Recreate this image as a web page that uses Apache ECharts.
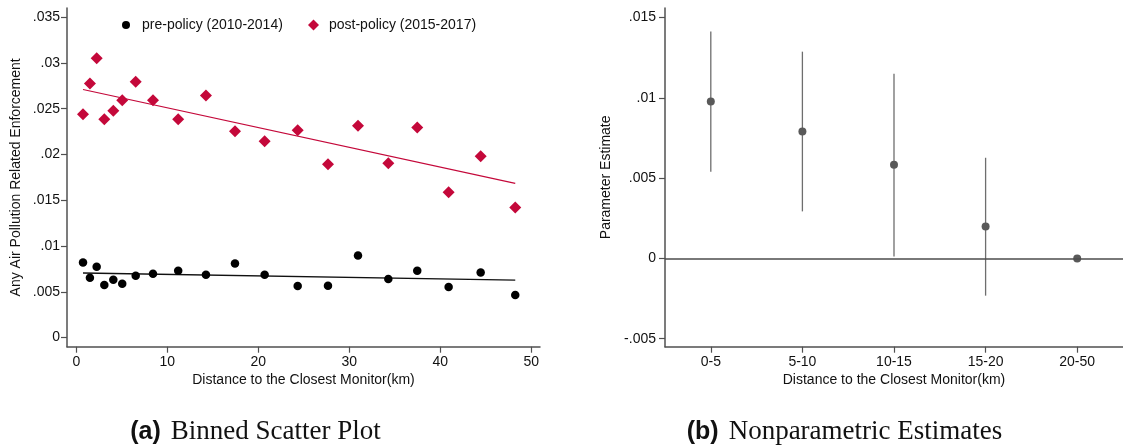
<!DOCTYPE html>
<html>
<head>
<meta charset="utf-8">
<script src="https://cdn.jsdelivr.net/npm/echarts@6/dist/echarts.min.js"></script>
<style>
  html, body { margin: 0; padding: 0; background: #fff; }
  #chart { width: 1123px; height: 446px; }
</style>
</head>
<body>
<div id="chart"></div>
<script>
// Panel (a): binned means of enforcement by distance to the closest monitor
const binDistance = [0.74, 1.5, 2.24, 3.08, 4.07, 5.05, 6.53, 8.43, 11.2, 14.25,
                     17.44, 20.7, 24.33, 27.66, 30.96, 34.29, 37.47, 40.92, 44.44, 48.24];
const prePolicy  = [0.0082, 0.00653, 0.00774, 0.00573, 0.00631, 0.00588, 0.00675, 0.00697, 0.0073, 0.00686,
                    0.0081, 0.00686, 0.00562, 0.00566, 0.00897, 0.00639, 0.0073, 0.00551, 0.00711, 0.00464];
const postPolicy = [0.0244, 0.02776, 0.0305, 0.02385, 0.02477, 0.02593, 0.02794, 0.02593, 0.02385, 0.02645,
                    0.02254, 0.02144, 0.02265, 0.01893, 0.02313, 0.01904, 0.02294, 0.01586, 0.0198, 0.01422];
// Linear fit end points [distance, value]
const preFit  = [[0.74, 0.00705], [48.24, 0.00628]];
const postFit = [[0.74, 0.0271],  [48.24, 0.01685]];

const xTicksA = [0, 10, 20, 30, 40, 50];
const yTicksA = [0, 0.005, 0.01, 0.015, 0.02, 0.025, 0.03, 0.035];
const yTickLabelsA = ['0', '.005', '.01', '.015', '.02', '.025', '.03', '.035'];

// Panel (b): nonparametric estimates with confidence intervals
const distanceBins = ['0-5', '5-10', '10-15', '15-20', '20-50'];
const estimate = [0.00977, 0.0079, 0.00583, 0.00199, 0];
const ciLow    = [0.0054, 0.00293, 0.00012, -0.00232, null];
const ciHigh   = [0.01413, 0.01288, 0.01151, 0.00627, null];

const yTicksB = [-0.005, 0, 0.005, 0.01, 0.015];
const yTickLabelsB = ['-.005', '0', '.005', '.01', '.015'];

const legendPre = 'pre-policy (2010-2014)';
const legendPost = 'post-policy (2015-2017)';

const RED = '#c4083a';
const AXIS = '#505050';
const FONT = 'Liberation Sans, Arial, sans-serif';

function labelFor(values, labels) {
  return v => {
    const i = values.findIndex(t => Math.abs(t - v) < 1e-9);
    return i >= 0 ? labels[i] : '';
  };
}

const axisCommon = {
  axisLine: { show: true, onZero: false, lineStyle: { color: AXIS, width: 1.5 } },
  axisTick: { show: true, inside: false, length: 6, lineStyle: { color: AXIS, width: 1.2 } },
  splitLine: { show: false },
  nameTextStyle: { color: '#111', fontSize: 14, fontFamily: FONT },
};
const labelCommon = { color: '#111', fontSize: 14, fontFamily: FONT };

const chart = echarts.init(document.getElementById('chart'), null, { renderer: 'canvas' });

chart.setOption({
  backgroundColor: '#fff',
  animation: false,
  textStyle: { fontFamily: FONT },
  grid: [
    { left: 67, right: 583, top: 8, bottom: 99.3, containLabel: false },
    { left: 665, right: -10, top: 8, bottom: 99.3, containLabel: false }
  ],
  legend: [
    {
      data: [legendPre], left: 122, top: 18, icon: 'circle',
      itemWidth: 8, itemHeight: 8, padding: 0,
      textStyle: { color: '#111', fontSize: 14, fontFamily: FONT, padding: [0, 0, 0, 7] }
    },
    {
      data: [legendPost], left: 308, top: 18, icon: 'diamond',
      itemWidth: 11, itemHeight: 11, padding: 0,
      textStyle: { color: '#111', fontSize: 14, fontFamily: FONT, padding: [0, 0, 0, 5] }
    }
  ],
  xAxis: [
    Object.assign({}, axisCommon, {
      type: 'value', gridIndex: 0, min: -1.02, max: 50.96,
      name: 'Distance to the Closest Monitor(km)', nameLocation: 'middle', nameGap: 21,
      axisTick: Object.assign({}, axisCommon.axisTick, { customValues: xTicksA }),
      axisLabel: Object.assign({}, labelCommon, { margin: 8, customValues: xTicksA,
        formatter: v => String(v) })
    }),
    Object.assign({}, axisCommon, {
      type: 'category', gridIndex: 1, data: distanceBins, boundaryGap: true,
      name: 'Distance to the Closest Monitor(km)', nameLocation: 'middle', nameGap: 21,
      axisTick: Object.assign({}, axisCommon.axisTick, { alignWithLabel: true }),
      axisLabel: Object.assign({}, labelCommon, { margin: 8, interval: 0 })
    })
  ],
  yAxis: [
    Object.assign({}, axisCommon, {
      type: 'value', gridIndex: 0, min: -0.001, max: 0.036,
      name: 'Any Air Pollution Related Enforcement', nameLocation: 'middle', nameGap: 44,
      axisTick: Object.assign({}, axisCommon.axisTick, { customValues: yTicksA }),
      axisLabel: Object.assign({}, labelCommon, { margin: 7, customValues: yTicksA,
        formatter: labelFor(yTicksA, yTickLabelsA) })
    }),
    Object.assign({}, axisCommon, {
      type: 'value', gridIndex: 1, min: -0.0055, max: 0.0156,
      name: 'Parameter Estimate', nameLocation: 'middle', nameGap: 52,
      axisTick: Object.assign({}, axisCommon.axisTick, { customValues: yTicksB }),
      axisLabel: Object.assign({}, labelCommon, { margin: 9, customValues: yTicksB,
        formatter: labelFor(yTicksB, yTickLabelsB) })
    })
  ],
  series: [
    {
      name: 'pre fit', type: 'line', xAxisIndex: 0, yAxisIndex: 0, data: preFit,
      symbol: 'none', silent: true, lineStyle: { color: '#111', width: 1.3 }, z: 2
    },
    {
      name: 'post fit', type: 'line', xAxisIndex: 0, yAxisIndex: 0, data: postFit,
      symbol: 'none', silent: true, lineStyle: { color: RED, width: 1.2 }, z: 2
    },
    {
      name: legendPre, type: 'scatter', xAxisIndex: 0, yAxisIndex: 0,
      data: binDistance.map((d, i) => [d, prePolicy[i]]),
      symbol: 'circle', symbolSize: 8.5, itemStyle: { color: '#000', opacity: 1 }, z: 3
    },
    {
      name: legendPost, type: 'scatter', xAxisIndex: 0, yAxisIndex: 0,
      data: binDistance.map((d, i) => [d, postPolicy[i]]),
      symbol: 'diamond', symbolSize: 12, itemStyle: { color: RED, opacity: 1 }, z: 3
    },
    {
      name: 'confidence interval', type: 'custom', xAxisIndex: 1, yAxisIndex: 1,
      data: distanceBins.map((b, i) => [i, ciLow[i], ciHigh[i]]),
      renderItem: (params, api) => {
        const lo = api.value(1), hi = api.value(2);
        if (lo == null || hi == null || isNaN(lo) || isNaN(hi)) return null;
        const p1 = api.coord([api.value(0), lo]);
        const p2 = api.coord([api.value(0), hi]);
        return {
          type: 'line',
          shape: { x1: p1[0], y1: p1[1], x2: p2[0], y2: p2[1] },
          style: { stroke: '#6e6e6e', lineWidth: 1.3 }
        };
      },
      silent: true, z: 2
    },
    {
      name: 'estimate', type: 'scatter', xAxisIndex: 1, yAxisIndex: 1,
      data: distanceBins.map((b, i) => [i, estimate[i]]),
      symbol: 'circle', symbolSize: 8, itemStyle: { color: '#595959', opacity: 1 }, z: 4,
      markLine: {
        silent: true, symbol: 'none', label: { show: false },
        lineStyle: { color: '#4d4d4d', width: 1.5, type: 'solid' },
        data: [{ yAxis: 0 }]
      }
    }
  ],
  graphic: [
    {
      type: 'text', x: 255.5, y: 432,
      style: {
        text: '{a|(a)}{b|Binned Scatter Plot}',
        align: 'center', verticalAlign: 'middle',
        rich: {
          a: { fontFamily: 'Liberation Sans, Arial, sans-serif', fontWeight: 'bold', fontSize: 25, fill: '#111', padding: [0, 10, 0, 0] },
          b: { fontFamily: 'Liberation Serif, Times New Roman, serif', fontSize: 27, fill: '#111' }
        }
      }
    },
    {
      type: 'text', x: 844.5, y: 432,
      style: {
        text: '{a|(b)}{b|Nonparametric Estimates}',
        align: 'center', verticalAlign: 'middle',
        rich: {
          a: { fontFamily: 'Liberation Sans, Arial, sans-serif', fontWeight: 'bold', fontSize: 25, fill: '#111', padding: [0, 10, 0, 0] },
          b: { fontFamily: 'Liberation Serif, Times New Roman, serif', fontSize: 27, fill: '#111' }
        }
      }
    }
  ]
});
</script>
</body>
</html>
